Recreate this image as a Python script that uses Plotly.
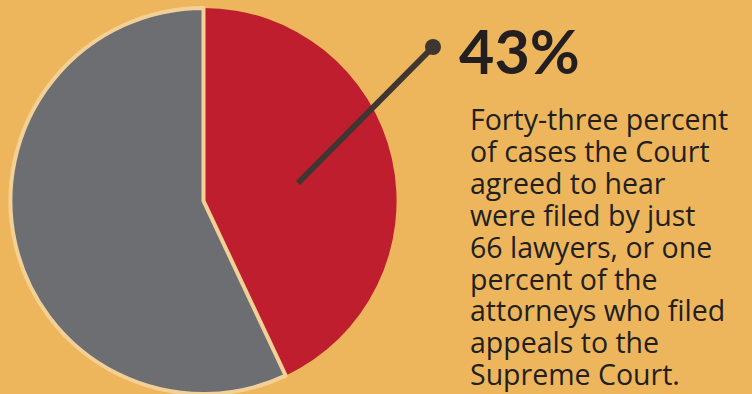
import plotly.graph_objects as go

W, H = 752, 394

labels = ["Filed by 66 lawyers", "All other cases"]
values = [43, 57]
colors = ["#BF1E2E", "#6D6E71"]
line_widths = [0, 4]

headline = "43%"
body_lines = [
    "Forty-three percent",
    "of cases the Court",
    "agreed to hear",
    "were filed by just",
    "66 lawyers, or one",
    "percent of the",
    "attorneys who filed",
    "appeals to the",
    "Supreme Court.",
]

BG = "#EDB65C"
CREAM = "#F3D096"
INK = "#231F20"
LEADER = "#3F3631"

fig = go.Figure()
fig.add_trace(go.Pie(
    labels=labels, values=values, sort=False, direction="clockwise", rotation=0,
    marker=dict(colors=colors, line=dict(color=CREAM, width=line_widths)),
    textinfo="none", hoverinfo="label+percent",
    domain=dict(x=[9.5 / W, 397.5 / W], y=[0, 0.98]),
    showlegend=False,
))

def px(x):
    return x / W

def py(y):
    return 1 - y / H

# leader line and dot
fig.add_shape(type="line", xref="paper", yref="paper",
              x0=px(298), y0=py(183), x1=px(433), y1=py(47),
              line=dict(color=LEADER, width=6))
r = 8
fig.add_shape(type="circle", xref="paper", yref="paper",
              x0=px(433 - r), y0=py(47 + r), x1=px(433 + r), y1=py(47 - r),
              fillcolor=LEADER, line=dict(width=0))

fig.add_annotation(text="<b>" + headline + "</b>", xref="paper", yref="paper",
                   x=px(457), y=py(50), xanchor="left", yanchor="middle",
                   showarrow=False, font=dict(family="Lato", size=61, color=INK))

center0 = 119
pitch = 31.9
for i, t in enumerate(body_lines):
    fig.add_annotation(text=t, xref="paper", yref="paper",
                       x=px(469), y=py(center0 + i * pitch), xanchor="left", yanchor="middle",
                       borderpad=0,
                       showarrow=False, font=dict(family="Open Sans", size=28.5, color=INK))

fig.update_layout(width=W, height=H, margin=dict(l=0, r=0, t=0, b=0),
                  paper_bgcolor=BG, plot_bgcolor=BG)

fig.write_html("out.html")
